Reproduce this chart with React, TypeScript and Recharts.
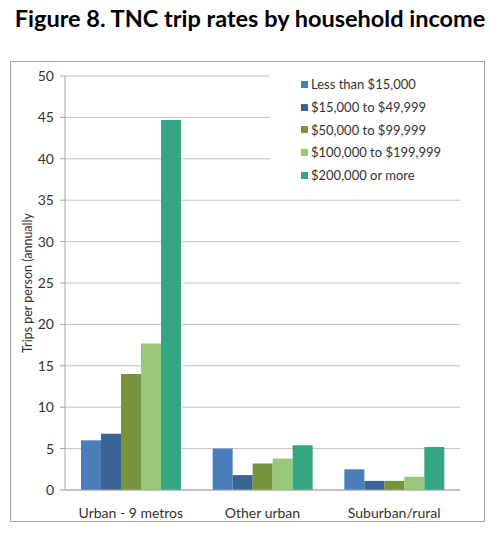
import { BarChart, Bar, XAxis, YAxis, CartesianGrid } from "recharts";

const categories = ["Urban - 9 metros", "Other urban", "Suburban/rural"];
const lessThan15k = [6.0, 5.0, 2.5];
const from15kTo50k = [6.8, 1.8, 1.1];
const from50kTo100k = [14.0, 3.2, 1.1];
const from100kTo200k = [17.7, 3.8, 1.6];
const over200k = [44.7, 5.4, 5.2];
const yTicks = [0, 5, 10, 15, 20, 25, 30, 35, 40, 45, 50];

const series = [
  { key: "a", label: "Less than $15,000", color: "#4a7ebb", values: lessThan15k },
  { key: "b", label: "$15,000 to $49,999", color: "#3a6396", values: from15kTo50k },
  { key: "c", label: "$50,000 to $99,999", color: "#77933c", values: from50kTo100k },
  { key: "d", label: "$100,000 to $199,999", color: "#9bc77a", values: from100kTo200k },
  { key: "e", label: "$200,000 or more", color: "#35a684", values: over200k },
];

const data = categories.map((name, i) => {
  const row: Record<string, string | number> = { name };
  series.forEach((s) => (row[s.key] = s.values[i]));
  return row;
});

const font = "Lato, 'Open Sans', sans-serif";

// legend sits over the top-right of the plot and hides the gridlines behind it
function LegendBox() {
  return (
    <div
      style={{
        position: "absolute",
        left: 270,
        top: 70,
        width: 190,
        height: 120,
        background: "#fff",
        paddingTop: 3,
        boxSizing: "border-box",
      }}
    >
      {series.map((s) => (
        <div key={s.key} style={{ display: "flex", alignItems: "center", height: 22.7, paddingLeft: 31 }}>
          <span style={{ width: 7, height: 7, background: s.color, marginRight: 3, display: "inline-block" }} />
          <span style={{ fontSize: 13, color: "#333", fontFamily: font }}>{s.label}</span>
        </div>
      ))}
    </div>
  );
}

export default function App() {
  return (
    <div style={{ position: "absolute", left: 0, top: 0, width: 500, height: 537, background: "#fff", fontFamily: font }}>
      <div
        style={{
          position: "absolute",
          left: 0,
          top: 4,
          width: 500,
          textAlign: "center",
          fontWeight: 700,
          fontSize: 23.5,
          color: "#000",
        }}
      >
        Figure 8. TNC trip rates by household income
      </div>
      <div
        style={{
          position: "absolute",
          left: 10,
          top: 61,
          width: 475,
          height: 461,
          border: "1.5px solid #a3a3a3",
          boxSizing: "border-box",
        }}
      />
      <div style={{ position: "absolute", left: 0, top: 0 }}>
        <BarChart
          width={500}
          height={537}
          data={data}
          margin={{ top: 76, right: 40, bottom: 17, left: 0 }}
          barGap={0}
          barSize={20}
        >
          <CartesianGrid vertical={false} stroke="#c4c4c4" />
          <XAxis
            dataKey="name"
            height={30}
            tickLine={false}
            axisLine={{ stroke: "#a6a6a6" }}
            tick={{ fontSize: 14, fill: "#333", fontFamily: font }}
            tickMargin={12}
          />
          <YAxis
            width={65}
            domain={[0, 50]}
            ticks={yTicks}
            tickSize={5}
            tickLine={{ stroke: "#a6a6a6" }}
            axisLine={{ stroke: "#a6a6a6" }}
            tick={{ fontSize: 14, fill: "#333", fontFamily: font }}
            tickMargin={6}
            label={{
              value: "Trips per person (annually",
              angle: -90,
              position: "center",
              dx: -5,
              style: { fontSize: 12.5, fill: "#333", fontFamily: font },
            }}
          />
          {series.map((s) => (
            <Bar key={s.key} dataKey={s.key} name={s.label} fill={s.color} isAnimationActive={false} />
          ))}
        </BarChart>
      </div>
      <LegendBox />
    </div>
  );
}
